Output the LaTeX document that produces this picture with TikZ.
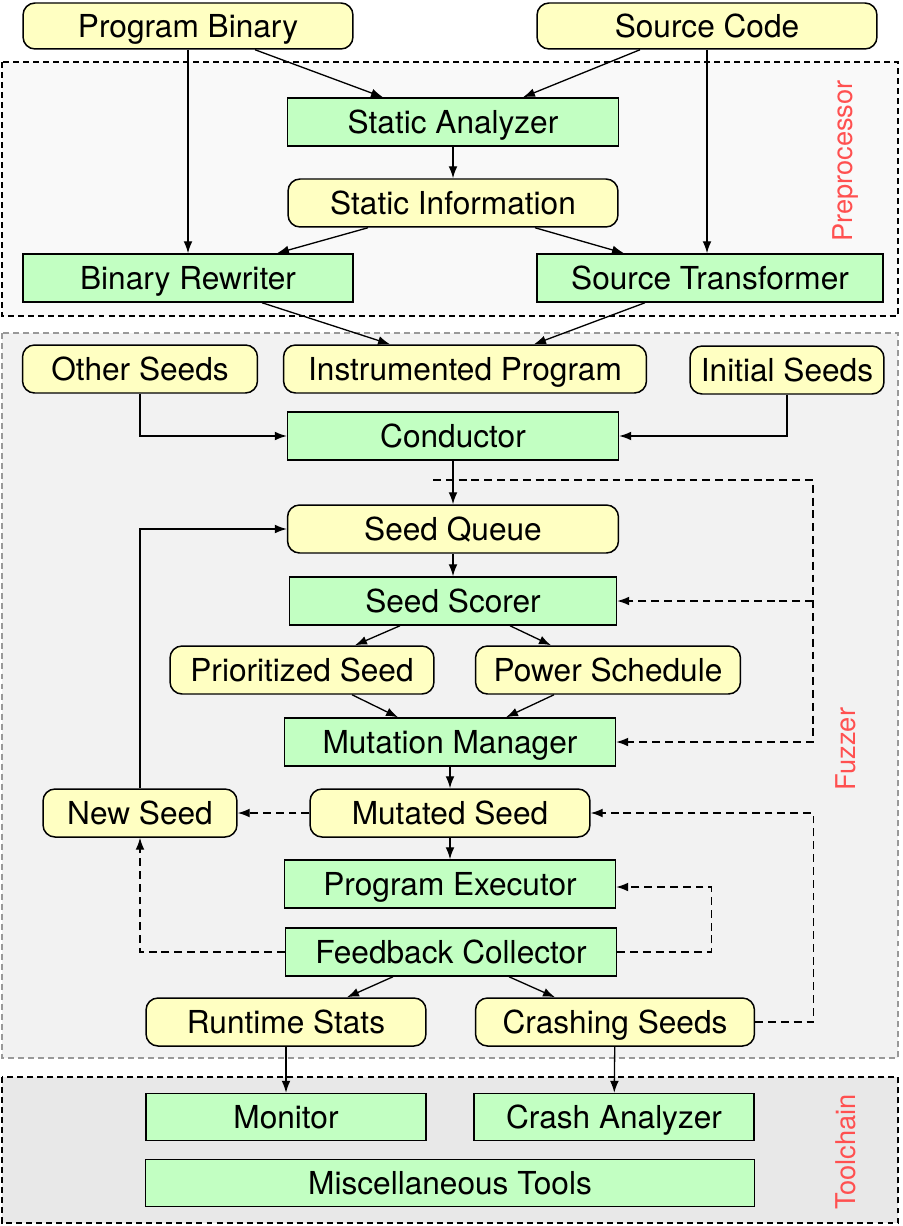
\documentclass[tikz,border=0pt]{standalone}
\usepackage{fontspec}
\setmainfont{TeX Gyre Heros}
\usetikzlibrary{arrows.meta,calc}
\definecolor{pillfill}{HTML}{FFFFC2}
\definecolor{boxfill}{HTML}{C2FFC2}
\definecolor{labelred}{HTML}{FF5050}
\begin{document}
\begin{tikzpicture}[x=0.02cm,y=-0.02cm]
    \tikzstyle{every node}+=[inner sep=0pt]
    \tikzstyle{greenbox}=[draw=black, line width=0.85pt, fill=boxfill, minimum height=0.96cm, text height=13pt, text depth=0pt, font=\fontsize{18}{22}\selectfont]
    \tikzstyle{yellowbox}=[greenbox, fill=pillfill, rounded corners=0.24cm]
    \tikzstyle{flow}=[line width=0.75pt, -{Latex[length=6.8pt,width=5pt]}]
    \tikzstyle{dflow}=[flow, dash pattern=on 4.5pt off 2.8pt]
    \tikzstyle{frame}=[line width=0.75pt, dash pattern=on 3.4pt off 2.3pt]
    \tikzstyle{framelabel}=[rotate=90, text=labelred, font=\fontsize{15.5}{18}\selectfont]
    \useasboundingbox (0,0) rectangle (902,1226);
    \draw [frame, fill=black!2.5] (2,62) rectangle (898,316);
    \draw [frame, draw=black!40, fill=black!5] (2,333) rectangle (898,1058);
    \draw [frame, fill=black!9] (2,1077) rectangle (898,1223);
    \node [framelabel] (lpre) at (846,161) {Preprocessor};
    \node [framelabel] (lfuz) at (846,749) {Fuzzer};
    \node [framelabel] (ltool) at (846,1152) {Toolchain};
    \node [yellowbox, minimum width=6.6cm, minimum height=0.92cm] (pb) at (188,26) {Program Binary};
    \node [yellowbox, minimum width=6.8cm, minimum height=0.92cm] (sc) at (707,26) {Source Code};
    \node [greenbox, minimum width=6.62cm] (sa) at (453,122) {Static Analyzer};
    \node [yellowbox, minimum width=6.6cm] (si) at (453,203) {Static Information};
    \node [greenbox, minimum width=6.6cm] (br) at (188,278) {Binary Rewriter};
    \node [greenbox, minimum width=6.92cm] (st) at (710,278) {Source Transformer};
    \node [yellowbox, minimum width=4.7cm] (os) at (140,369) {Other Seeds};
    \node [yellowbox, minimum width=7.26cm] (ip) at (465,369) {Instrumented Program};
    \node [yellowbox, minimum width=3.88cm] (is) at (787,370) {Initial Seeds};
    \node [greenbox, minimum width=6.62cm] (co) at (453,436) {Conductor};
    \node [yellowbox, minimum width=6.62cm] (sq) at (453,529) {Seed Queue};
    \node [greenbox, minimum width=6.54cm] (ss) at (453,601) {Seed Scorer};
    \node [yellowbox, minimum width=5.28cm] (ps) at (302,670) {Prioritized Seed};
    \node [yellowbox, minimum width=5.3cm] (pw) at (608,670) {Power Schedule};
    \node [greenbox, minimum width=6.62cm] (mm) at (450,742) {Mutation Manager};
    \node [yellowbox, minimum width=3.88cm] (ns) at (140,813) {New Seed};
    \node [yellowbox, minimum width=5.6cm] (ms) at (450,813) {Mutated Seed};
    \node [greenbox, minimum width=6.62cm] (pe) at (450,884) {Program Executor};
    \node [greenbox, minimum width=6.62cm] (fc) at (451,952) {Feedback Collector};
    \node [yellowbox, minimum width=5.6cm] (rs) at (286,1022) {Runtime Stats};
    \node [yellowbox, minimum width=5.58cm] (cs) at (615,1022) {Crashing Seeds};
    \node [greenbox, minimum width=5.6cm, minimum height=0.94cm] (mo) at (286,1117) {Monitor};
    \node [greenbox, minimum width=5.6cm, minimum height=0.94cm] (ca) at (614,1117) {Crash Analyzer};
    \node [greenbox, minimum width=12.18cm, minimum height=0.94cm] (mt) at (450,1183) {Miscellaneous Tools};
    \coordinate (tap) at (433,480);
    \coordinate (tapr) at (813,480);
    \draw [flow] (pb.south) -- (pb.south |- br.north);
    \draw [flow] ($(pb.south)+(67,0)$) -- ($(sa.north)+(-70,0)$);
    \draw [flow] ($(sc.south)+(-67,0)$) -- ($(sa.north)+(70,0)$);
    \draw [flow] (sc.south) -- (sc.south |- st.north);
    \draw [flow] (sa) -- (si);
    \draw [flow] ($(si.south)+(-85,0)$) -- ($(br.north)+(89,0)$);
    \draw [flow] ($(si.south)+(82,0)$) -- ($(st.north)+(-86,0)$);
    \draw [flow] ($(br.south)+(74,0)$) -- ($(ip.north)+(-75,0)$);
    \draw [flow] ($(st.south)+(-65,0)$) -- ($(ip.north)+(69,0)$);
    \draw [flow] (os.south) |- (co.west);
    \draw [flow] (is.south) |- (co.east);
    \draw [flow] (co) -- (sq);
    \draw [dflow] (tap) -- (tapr) |- (mm.east);
    \draw [dflow] (tapr |- ss.east) -- (ss.east);
    \draw [flow] (sq) -- (ss);
    \draw [flow] ($(ss.south)+(-53,0)$) -- ($(ps.north)+(53,0)$);
    \draw [flow] ($(ss.south)+(57,0)$) -- ($(pw.north)+(-57,0)$);
    \draw [flow] ($(ps.south)+(50,0)$) -- ($(mm.north)+(-52,0)$);
    \draw [flow] ($(pw.south)+(-54,0)$) -- ($(mm.north)+(56,0)$);
    \draw [flow] (mm) -- (ms);
    \draw [dflow] (ms.west) -- (ns.east);
    \draw [flow] (ns.north) |- (sq.west);
    \draw [flow] (ms) -- (pe);
    \draw [dflow] (fc.west) -| (ns.south);
    \draw [dflow] (fc.east) -- ++(94,0) |- ($(pe.east)+(0,3)$);
    \draw [flow] ($(fc.south)+(-58,0)$) -- ($(rs.north)+(61,0)$);
    \draw [flow] ($(fc.south)+(58,0)$) -- ($(cs.north)+(-60,0)$);
    \draw [dflow] (cs.east) -- ++(58,0) |- (ms.east);
    \draw [flow] (rs) -- (mo);
    \draw [flow] (cs) -- (ca);
\end{tikzpicture}
\end{document}
